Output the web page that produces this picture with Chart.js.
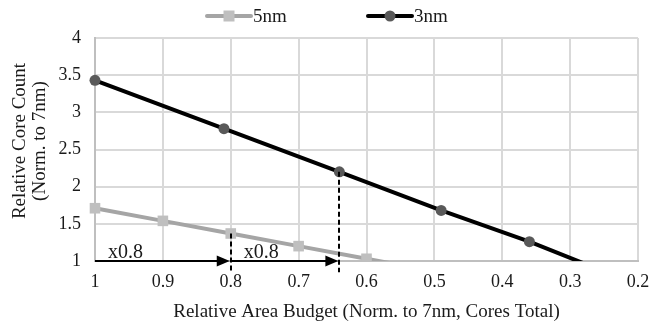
<!DOCTYPE html>
<html>
<head>
<meta charset="utf-8">
<script src="https://cdn.jsdelivr.net/npm/chart.js@4"></script>
<style>
  body { margin: 0; background: #fff; }
  #wrap { width: 665px; height: 325px; }
</style>
</head>
<body>
<div id="wrap"><canvas id="myChart"></canvas></div>
<script>
// data
var labels5 = [1, 0.9, 0.8, 0.7, 0.6, 0.5];
var values5 = [1.71, 1.54, 1.37, 1.2, 1.03, 0.86];
var labels3 = [1, 0.81, 0.64, 0.49, 0.36, 0.25];
var values3 = [3.43, 2.78, 2.2, 1.68, 1.26, 0.86];
var seriesNames = ['5nm', '3nm'];
var yTitle = ['Relative Core Count', '(Norm. to 7nm)'];
var xTitle = 'Relative Area Budget (Norm. to 7nm, Cores Total)';

// annotations (dashed guides + x0.8 arrows)
var dashX = [0.8, 0.64];
var dashTop = [1.37, 2.2];
var dashBottom = 0.85;
var arrowFrom = [1, 0.8];
var arrowTo = [0.8, 0.64];
var arrowText = ['x0.8', 'x0.8'];

var FONT = '"Liberation Serif", "Times New Roman", serif';
var TEXT = '#1a1a1a';

function pts(xs, ys) {
    return xs.map(function (x, i) { return { x: x, y: ys[i] }; });
}

function fmt(v) {
    return String(Number(v.toFixed(2)));
}

// legend drawn like the original: line with marker in the middle
var legendPlugin = {
    id: 'lineLegend',
    afterDraw: function (chart) {
        var ctx = chart.ctx;
        var lefts = [207, 368];
        var y = 16;
        chart.data.datasets.forEach(function (ds, i) {
            var x0 = lefts[i];
            ctx.save();
            ctx.strokeStyle = ds.borderColor;
            ctx.lineWidth = ds.borderWidth;
            ctx.lineCap = 'round';
            ctx.beginPath();
            ctx.moveTo(x0, y);
            ctx.lineTo(x0 + 44, y);
            ctx.stroke();
            ctx.fillStyle = ds.pointBackgroundColor;
            if (ds.pointStyle === 'rect') {
                ctx.fillRect(x0 + 22 - 5.5, y - 5.5, 11, 11);
            } else {
                ctx.beginPath();
                ctx.arc(x0 + 22, y, 5.5, 0, Math.PI * 2);
                ctx.fill();
            }
            ctx.fillStyle = TEXT;
            ctx.font = '19px ' + FONT;
            ctx.textBaseline = 'middle';
            ctx.fillText(ds.label, x0 + 46, y + 1);
            ctx.restore();
        });

        // y title, a bit above the plot middle as in the original
        ctx.save();
        ctx.translate(20, 141);
        ctx.rotate(-Math.PI / 2);
        ctx.fillStyle = TEXT;
        ctx.font = '19px ' + FONT;
        ctx.textAlign = 'center';
        ctx.textBaseline = 'middle';
        yTitle.forEach(function (t, i) { ctx.fillText(t, 0, i * 20); });
        ctx.restore();
    }
};

var guidePlugin = {
    id: 'guides',
    afterDatasetsDraw: function (chart) {
        var ctx = chart.ctx;
        var xs = chart.scales.x, ys = chart.scales.y;
        ctx.save();
        // dashed verticals
        ctx.strokeStyle = '#000';
        ctx.lineWidth = 2;
        ctx.setLineDash([5, 3]);
        dashX.forEach(function (v, i) {
            var px = Math.round(xs.getPixelForValue(v));
            ctx.beginPath();
            ctx.moveTo(px, ys.getPixelForValue(dashTop[i]));
            ctx.lineTo(px, ys.getPixelForValue(dashBottom));
            ctx.stroke();
        });
        ctx.setLineDash([]);
        // arrows along y = 1
        var ay = ys.getPixelForValue(1);
        arrowFrom.forEach(function (v, i) {
            var a = xs.getPixelForValue(v);
            var b = xs.getPixelForValue(arrowTo[i]) - 1;
            ctx.beginPath();
            ctx.moveTo(a, ay);
            ctx.lineTo(b - 12, ay);
            ctx.stroke();
            ctx.fillStyle = '#000';
            ctx.beginPath();
            ctx.moveTo(b, ay);
            ctx.lineTo(b - 13, ay - 5.5);
            ctx.lineTo(b - 13, ay + 5.5);
            ctx.closePath();
            ctx.fill();
            ctx.fillStyle = TEXT;
            ctx.font = '20px ' + FONT;
            ctx.textBaseline = 'alphabetic';
            ctx.fillText(arrowText[i], a + 13, ay - 3);
        });
        ctx.restore();
    }
};

var ctx = document.getElementById('myChart').getContext('2d');
var myChart = new Chart(ctx, {
    type: 'line',
    data: {
        datasets: [{
            label: seriesNames[0],
            data: pts(labels5, values5),
            borderColor: '#a5a5a5',
            borderWidth: 4,
            pointStyle: 'rect',
            pointRadius: 7.5,
            pointBackgroundColor: '#bfbfbf',
            pointBorderColor: '#bfbfbf',
            pointBorderWidth: 0,
            clip: { left: 10, top: 0, right: 0, bottom: 0 }
        }, {
            label: seriesNames[1],
            data: pts(labels3, values3),
            borderColor: '#000000',
            borderWidth: 4,
            pointStyle: 'circle',
            pointRadius: 5.5,
            pointBackgroundColor: '#595959',
            pointBorderColor: '#595959',
            pointBorderWidth: 0,
            clip: { left: 10, top: 0, right: 0, bottom: 0 }
        }]
    },
    options: {
        responsive: true,
        maintainAspectRatio: false,
        animation: false,
        layout: {
            padding: { top: 38, right: 27, left: 0, bottom: 0 }
        },
        scales: {
            x: {
                type: 'linear',
                reverse: true,
                min: 0.2,
                max: 1,
                grid: { color: '#d9d9d9', lineWidth: 2, drawTicks: false },
                border: { color: '#bfbfbf', width: 2 },
                ticks: {
                    stepSize: 0.1,
                    padding: 10,
                    color: TEXT,
                    font: { family: FONT, size: 18 },
                    callback: function (v) { return fmt(v); }
                },
                title: {
                    display: true,
                    text: xTitle,
                    color: TEXT,
                    font: { family: FONT, size: 19 },
                    padding: { top: 0, bottom: 2 }
                },
                afterFit: function (s) { s.height = 64; }
            },
            y: {
                min: 1,
                max: 4,
                grid: { color: '#d9d9d9', lineWidth: 2, drawTicks: false },
                border: { color: '#bfbfbf', width: 2 },
                ticks: {
                    stepSize: 0.5,
                    padding: 14,
                    color: TEXT,
                    font: { family: FONT, size: 18 },
                    callback: function (v) { return fmt(v); }
                },
                afterFit: function (s) { s.width = 95; }
            }
        },
        plugins: {
            legend: { display: false },
            tooltip: { enabled: false }
        }
    },
    plugins: [legendPlugin, guidePlugin]
});
</script>
</body>
</html>
